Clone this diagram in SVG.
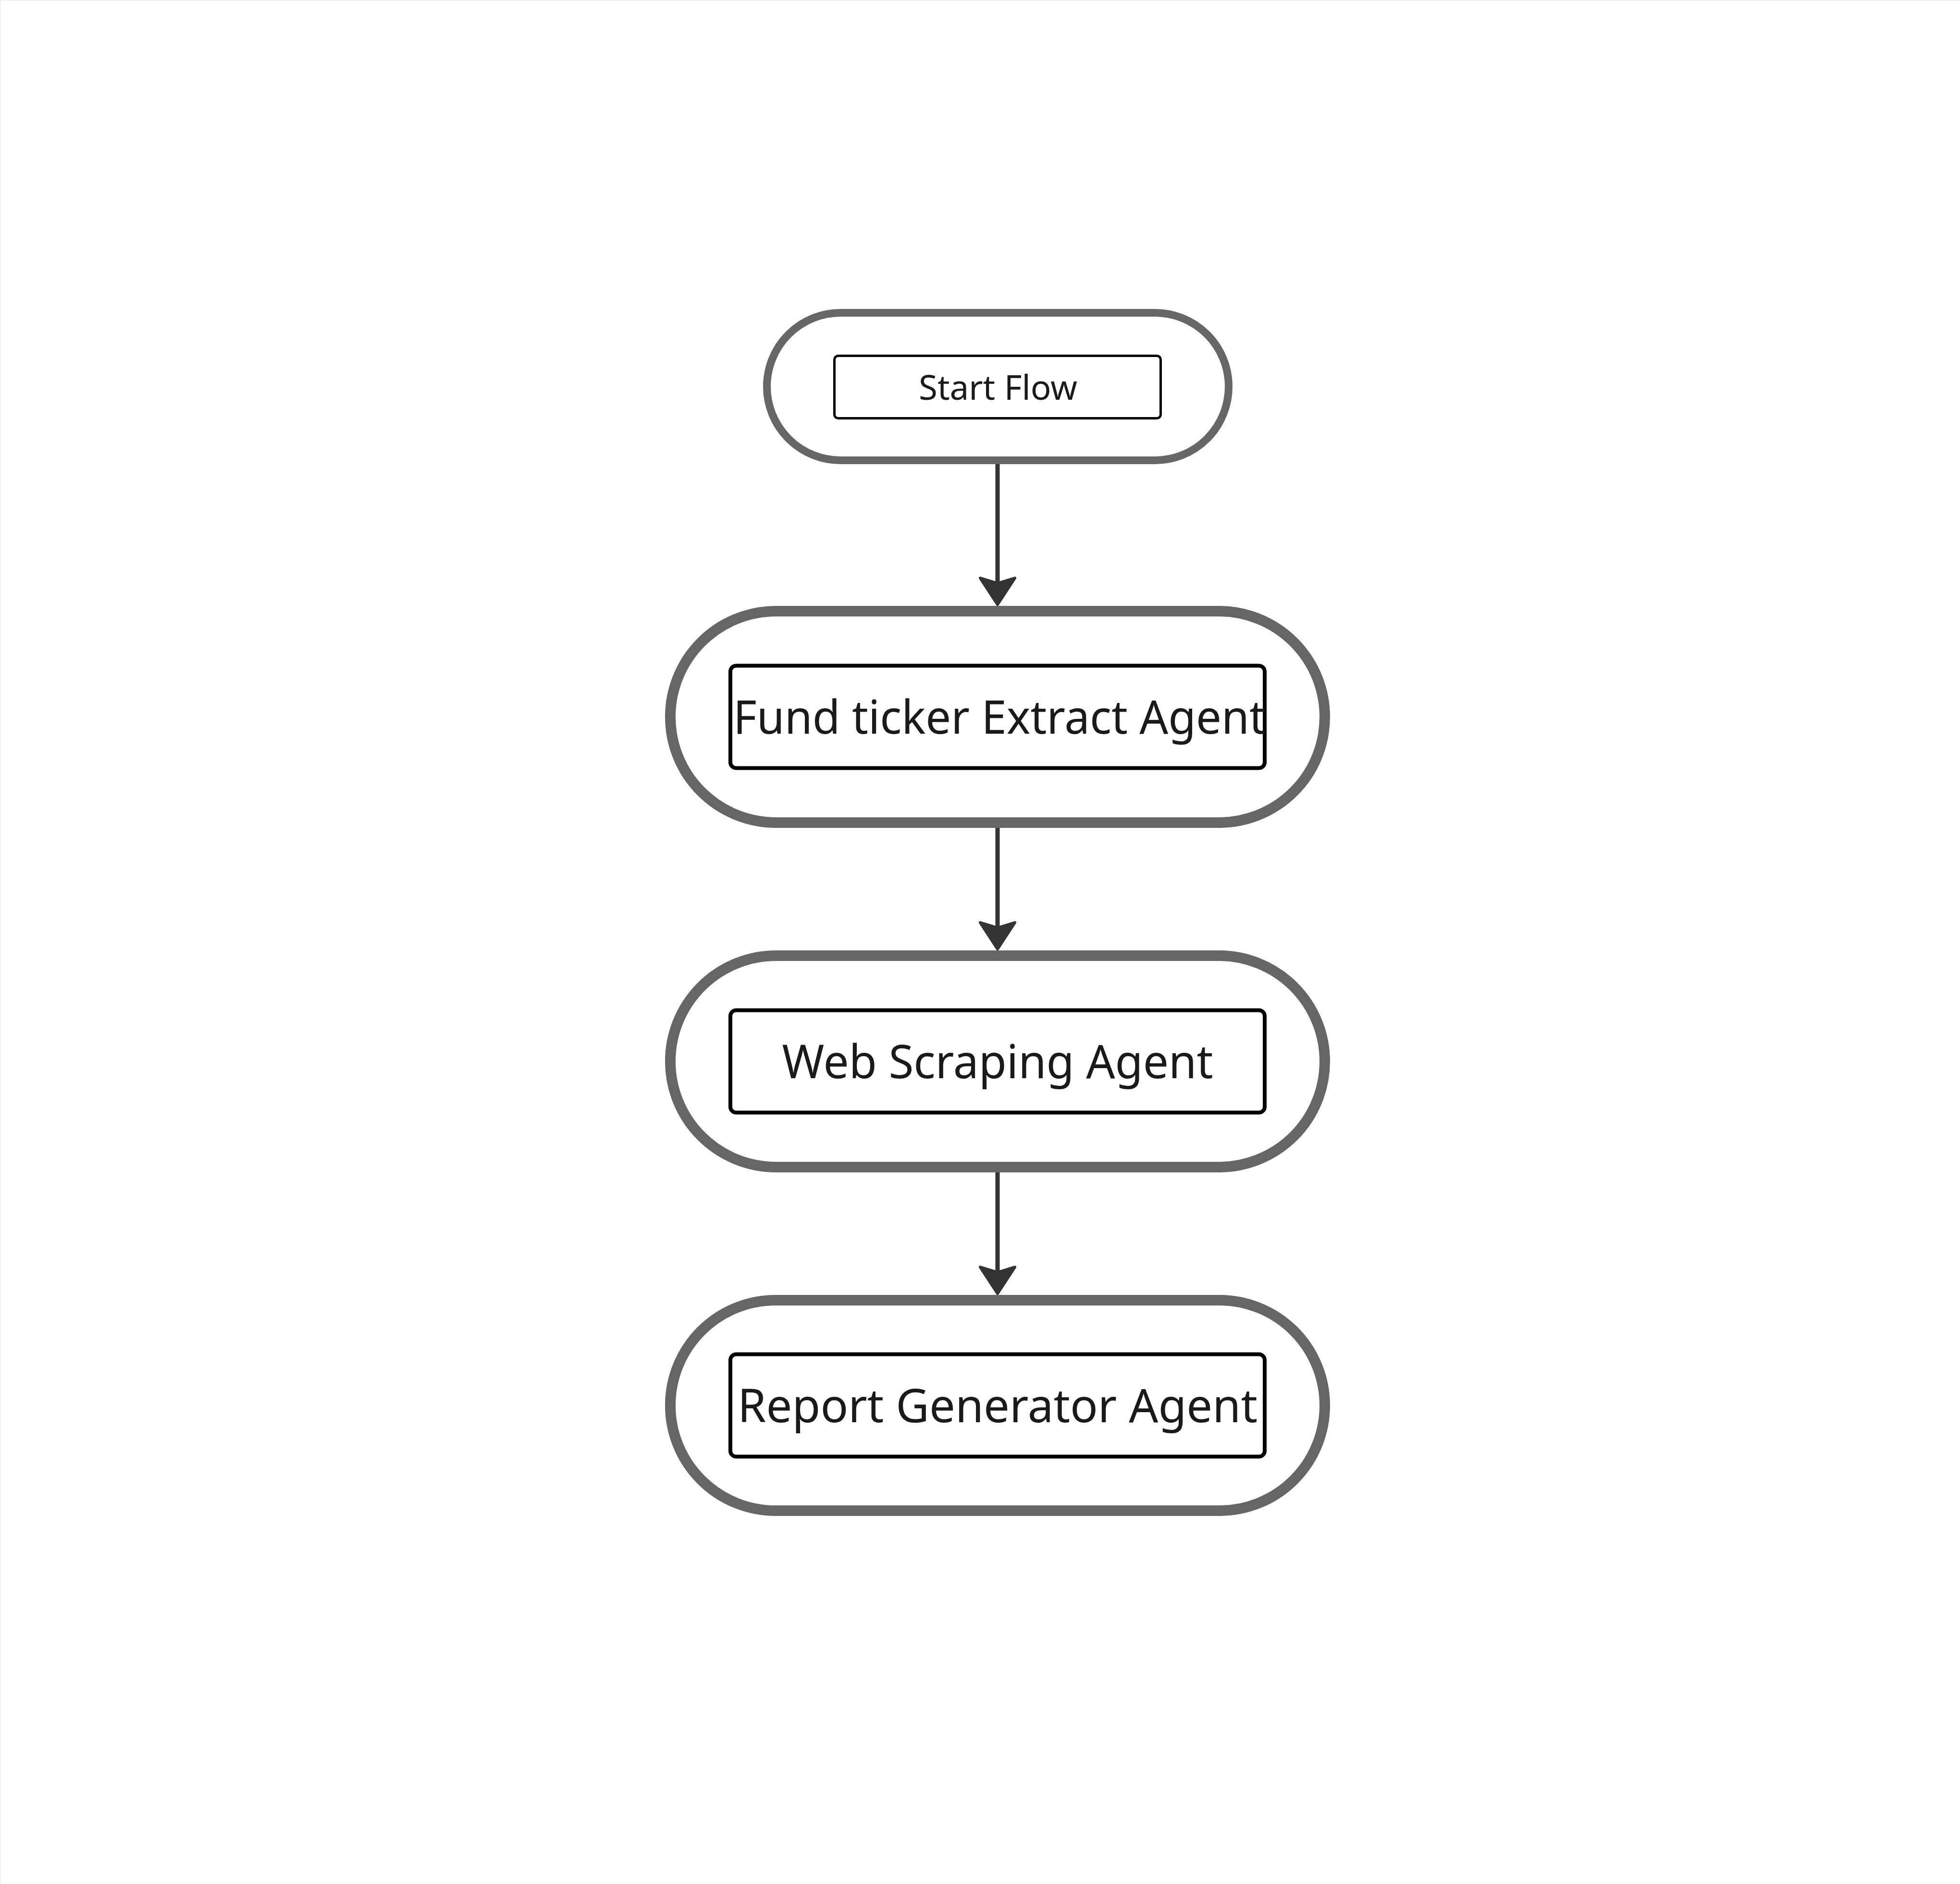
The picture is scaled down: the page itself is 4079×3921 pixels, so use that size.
<svg xmlns="http://www.w3.org/2000/svg" xmlns:xlink="http://www.w3.org/1999/xlink" width="4079" height="3921" viewBox="0 0 4079 3921">
<style>
.cap{fill:#ffffff;stroke:#666666;}
.inner{fill:#ffffff;stroke:#000000;}
.lbl{font-family:"Noto Sans","Open Sans","DejaVu Sans",sans-serif;fill:#1a1a1a;text-anchor:middle;}
.edge{stroke:#333333;stroke-width:9;fill:none;}
.head{fill:#333333;stroke:#333333;stroke-width:6;stroke-linejoin:round;}
</style>
<defs>
<path id="ah" class="head" d="M-36,-58 L0,-3 L36,-58 L0,-47 Z"/>
</defs>
<rect x="0" y="0" width="4079" height="3921" fill="#ffffff"/>
<line x1="0" y1="1" x2="4079" y2="1" stroke="#efefef" stroke-width="2"/>
<line x1="1" y1="0" x2="1" y2="3921" stroke="#f2f2f2" stroke-width="2"/>

<g id="connectors">
<line class="edge" x1="2076" y1="966" x2="2076" y2="1214"/>
<use xlink:href="#ah" x="2076" y="1261"/>
<line class="edge" x1="2076" y1="1723" x2="2076" y2="1931"/>
<use xlink:href="#ah" x="2076" y="1978"/>
<line class="edge" x1="2076" y1="2440" x2="2076" y2="2648"/>
<use xlink:href="#ah" x="2076" y="2695"/>
</g>

<g id="node-start">
<rect class="cap" x="1596" y="651" width="961" height="307" rx="153.5" ry="153.5" stroke-width="16"/>
<rect class="inner" x="1736.5" y="740.5" width="679" height="130" rx="8" ry="8" stroke-width="5"/>
<text class="lbl" x="2077" y="832" font-size="72" textLength="330" lengthAdjust="spacingAndGlyphs">Start Flow</text>
</g>

<g id="node-fund-ticker">
<rect class="cap" x="1395" y="1272" width="1362" height="440" rx="220" ry="220" stroke-width="22"/>
<rect class="inner" x="1520" y="1385.5" width="1112" height="213" rx="12" ry="12" stroke-width="8"/>
<text class="lbl" x="2080" y="1527" font-size="96" textLength="1108" lengthAdjust="spacingAndGlyphs">Fund ticker Extract Agent</text>
</g>

<g id="node-web-scraping">
<rect class="cap" x="1395" y="1989" width="1362" height="440" rx="220" ry="220" stroke-width="22"/>
<rect class="inner" x="1520" y="2102.5" width="1112" height="213" rx="12" ry="12" stroke-width="8"/>
<text class="lbl" x="2076" y="2244" font-size="96" textLength="897" lengthAdjust="spacingAndGlyphs">Web Scraping Agent</text>
</g>

<g id="node-report">
<rect class="cap" x="1395" y="2706" width="1362" height="438" rx="219" ry="219" stroke-width="22"/>
<rect class="inner" x="1520" y="2818.5" width="1112" height="213" rx="12" ry="12" stroke-width="8"/>
<text class="lbl" x="2076" y="2960" font-size="96" textLength="1082" lengthAdjust="spacingAndGlyphs">Report Generator Agent</text>
</g>
</svg>
